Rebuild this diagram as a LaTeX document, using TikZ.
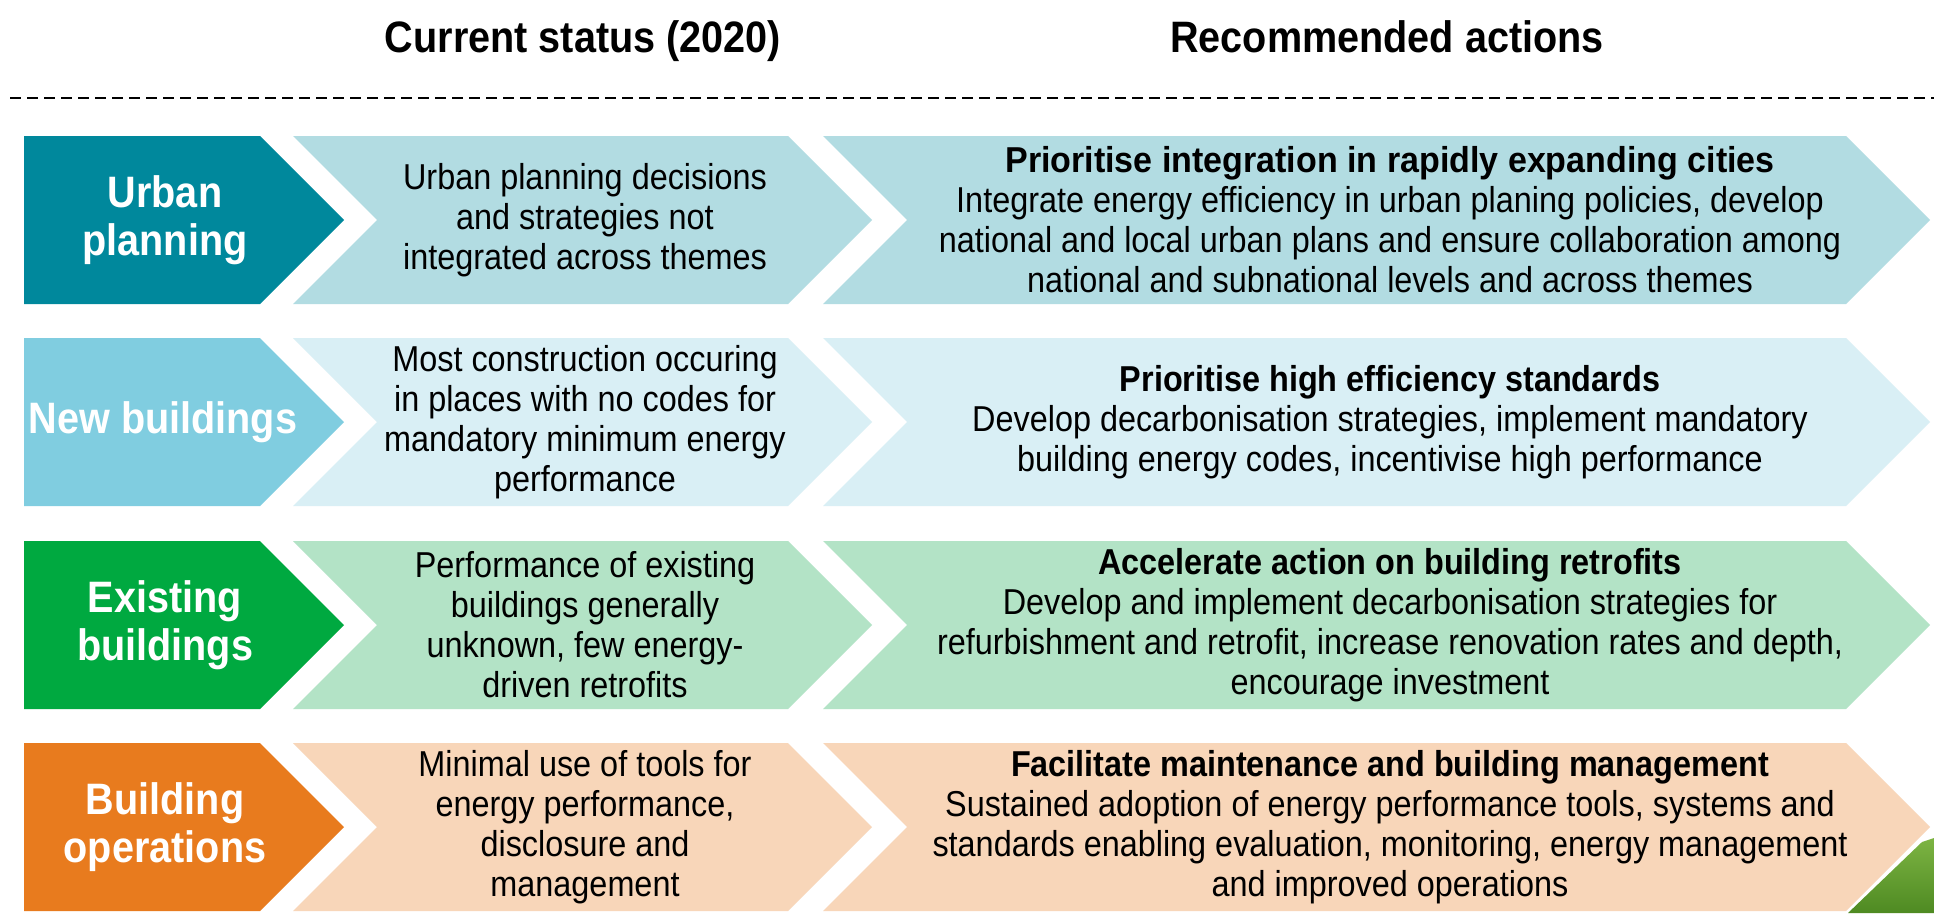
\documentclass[tikz,border=0pt]{standalone}
\usepackage{fontspec}
\usepackage{graphicx}
\setmainfont[FakeStretch=0.9]{Liberation Sans}
\definecolor{upD}{HTML}{00889C}
\definecolor{upL}{HTML}{B2DCE2}
\definecolor{nbD}{HTML}{80CDE0}
\definecolor{nbL}{HTML}{D9EFF5}
\definecolor{ebD}{HTML}{00A940}
\definecolor{ebL}{HTML}{B3E3C6}
\definecolor{boD}{HTML}{E87B1E}
\definecolor{boL}{HTML}{F8D6B9}
\definecolor{grnA}{HTML}{7DB443}
\definecolor{grnB}{HTML}{4E8A22}
\tikzset{
  hdr/.style={font=\fontsize{44}{48}\selectfont\bfseries, inner sep=0pt, anchor=base},
  lab/.style={font=\fontsize{44}{48}\selectfont\bfseries, text=white, align=center, inner sep=0pt},
  stat/.style={font=\fontsize{36}{40}\selectfont, align=center, inner sep=0pt},
  act/.style={font=\fontsize{36}{40}\selectfont, align=center, inner sep=0pt},
  rule/.style={line width=2.2pt, dash pattern=on 11pt off 6pt}
}
\begin{document}
\begin{tikzpicture}[x=1pt,y=-1pt]
\useasboundingbox (0,0) rectangle (1934,913);
\fill[white] (0,0) rectangle (1934,913);

% headers
\node[hdr] (h1) at (583,52) {Current status (2020)};
\node[hdr] (h2) at (1387,52) {Recommended actions};

% dashed rule
\coordinate (rl) at (10,98);
\coordinate (rr) at (1934,98);
\draw[rule] (rl) -- (rr);

% chevrons
\foreach \t/\dk/\lt in {136/upD/upL, 338/nbD/nbL, 541/ebD/ebL, 743/boD/boL} {
  \fill[\dk] (24,\t) -- (260,\t) -- (344,\t+84) -- (260,\t+168) -- (24,\t+168) -- cycle;
  \fill[\lt] (293,\t) -- (788,\t) -- (872,\t+84) -- (788,\t+168) -- (293,\t+168) -- (377,\t+84) -- cycle;
  \fill[\lt] (823,\t) -- (1846,\t) -- (1930,\t+84) -- (1846,\t+168) -- (823,\t+168) -- (907,\t+84) -- cycle;
}

% green corner
\shade[top color=grnA, bottom color=grnB] (1848,913) -- (1922,842) -- (1934,838) -- (1934,913) -- cycle;

% labels
\node[lab] (l1) at (165,220) {Urban\\planning};
\node[lab] (l2) at (163,422) {New buildings};
\node[lab] (l3) at (165,625) {Existing\\buildings};
\node[lab] (l4) at (165,827) {Building\\operations};

% current status
\node[stat] (s1) at (585,220) {Urban planning decisions\\and strategies not\\integrated across themes};
\node[stat] (s2) at (585,422) {Most construction occuring\\in places with no codes for\\mandatory minimum energy\\performance};
\node[stat] (s3) at (585,625) {Performance of existing\\buildings generally\\unknown, few energy-\\driven retrofits};
\node[stat] (s4) at (585,827) {Minimal use of tools for\\energy performance,\\disclosure and\\management};

% recommended actions
\node[act] (a1) at (1390,220) {\scalebox{1.05}[1]{\textbf{Prioritise integration in rapidly expanding cities}}\\Integrate energy efficiency in urban planing policies, develop\\national and local urban plans and ensure collaboration among\\national and subnational levels and across themes};
\node[act] (a2) at (1390,422) {\textbf{Prioritise high efficiency standards}\\Develop decarbonisation strategies, implement mandatory\\building energy codes, incentivise high performance};
\node[act] (a3) at (1390,625) {\textbf{Accelerate action on building retrofits}\\Develop and implement decarbonisation strategies for\\refurbishment and retrofit, increase renovation rates and depth,\\encourage investment};
\node[act] (a4) at (1390,827) {\textbf{Facilitate maintenance and building management}\\Sustained adoption of energy performance tools, systems and\\standards enabling evaluation, monitoring, energy management\\and improved operations};
\end{tikzpicture}
\end{document}
